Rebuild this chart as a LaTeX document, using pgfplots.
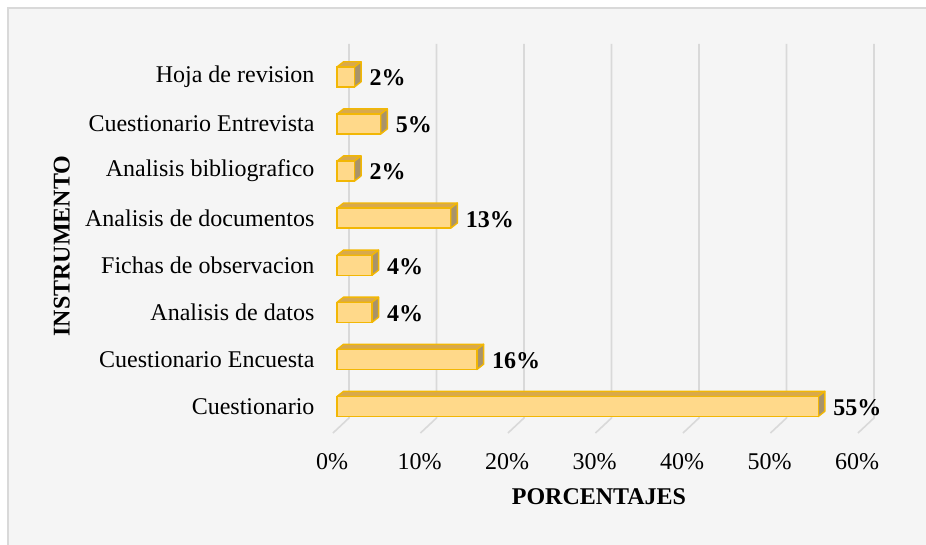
\documentclass[border=0pt]{standalone}
\usepackage{pgfplots}
\usepackage{pgfplotstable}
\usepackage{fontspec}
\setmainfont{Liberation Serif}
\pgfplotsset{compat=1.18}
\definecolor{bgc}{HTML}{F5F5F5}
\definecolor{framec}{HTML}{D9D9D9}
\definecolor{gridc}{HTML}{D9D9D9}
\definecolor{frontc}{HTML}{FFD98A}
\definecolor{topc}{HTML}{D8A94C}
\definecolor{sidec}{HTML}{A8936A}
\definecolor{edgec}{HTML}{F2B705}
\newcommand\bigfont{\fontsize{24}{29}\selectfont}
\pgfplotstableread{
pos val
0 55
1 16
2 4
3 4
4 13
5 2
6 5
7 2
}\datatable
% 3D faces of a bar: #1 value, #2 position
\newcommand\prism[2]{%
  \pgfmathsetmacro\prXa{#1+0.75}%
  \pgfmathsetmacro\prYl{#2-0.2125}%
  \pgfmathsetmacro\prYh{#2+0.2125}%
  \pgfmathsetmacro\prYlb{#2-0.2125+0.11}%
  \pgfmathsetmacro\prYhb{#2+0.2125+0.11}%
  \addplot[fill=topc, draw=edgec, line width=1.4pt, line join=round] coordinates {(0,\prYh) (#1,\prYh) (\prXa,\prYhb) (0.75,\prYhb)} -- cycle;
  \addplot[fill=sidec, draw=edgec, line width=1.4pt, line join=round] coordinates {(#1,\prYl) (\prXa,\prYlb) (\prXa,\prYhb) (#1,\prYh)} -- cycle;
}
\newcommand\gline[1]{%
  \pgfmathsetmacro\glA{#1+1.37}%
  \pgfmathsetmacro\glB{#1-0.46}%
  \addplot[gridc, line width=1.6pt] coordinates {(\glA,7.70) (\glA,-0.244) (\glB,-0.563)};
}
\begin{document}
\begin{tikzpicture}
\useasboundingbox (0,0) rectangle (926pt,-544pt);
\fill[white] (0,0) rectangle (926pt,-544pt);
\draw[framec, line width=2pt, fill=bgc] (8pt,-8pt) rectangle (940pt,-560pt);
\begin{axis}[
  at={(337pt,-433pt)}, anchor=south west,
  scale only axis, width=525pt, height=389pt,
  xmin=0, xmax=60, ymin=-0.563, ymax=7.70,
  clip=false,
  axis line style={draw=none},
  major tick length=0pt,
  xtick={0,10,20,30,40,50,60},
  xticklabels={0\%,10\%,20\%,30\%,40\%,50\%,60\%},
  ytick={0,1,2,3,4,5,6,7},
  yticklabels={Cuestionario, Cuestionario Encuesta, Analisis de datos, Fichas de observacion, Analisis de documentos, Analisis bibliografico, Cuestionario Entrevista, Hoja de revision},
  tick label style={font=\bigfont},
  xticklabel style={xshift=-5pt, yshift=-17pt},
  yticklabel style={xshift=-19pt},
  xlabel={PORCENTAJES},
  ylabel={INSTRUMENTO},
  label style={font=\bigfont\bfseries},
  xlabel style={at={(axis description cs:0.499,-0.1645)}, anchor=center},
  ylabel style={at={(axis description cs:-0.524,0.481)}, anchor=center},
]
\gline{0}\gline{10}\gline{20}\gline{30}\gline{40}\gline{50}\gline{60}
\prism{55}{0}
\prism{16}{1}
\prism{4}{2}
\prism{4}{3}
\prism{13}{4}
\prism{2}{5}
\prism{5}{6}
\prism{2}{7}
\addplot[xbar, bar width=0.425, bar shift=0pt, fill=frontc, draw=edgec, line width=1.4pt,
  point meta=explicit symbolic,
  nodes near coords={\pgfplotspointmeta\%},
  nodes near coords style={font=\bigfont\bfseries, anchor=west, xshift=11pt, yshift=-1pt, text=black}]
  table[x=val, y=pos, meta=val] {\datatable};
\end{axis}
\end{tikzpicture}
\end{document}
